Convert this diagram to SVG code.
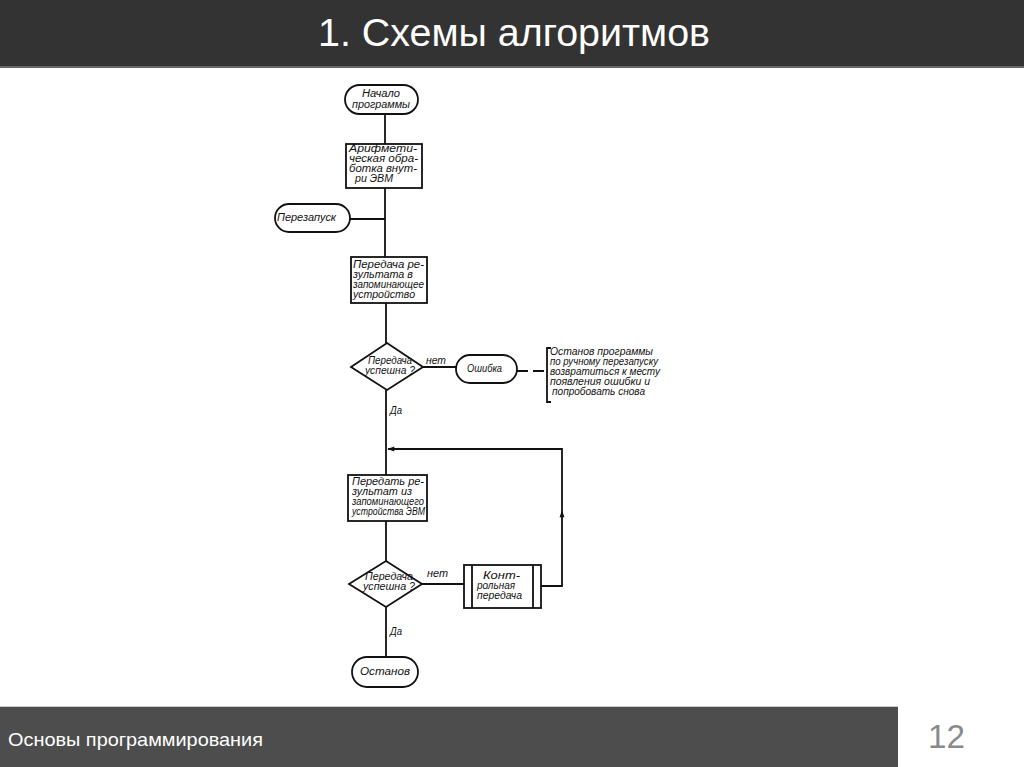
<svg xmlns="http://www.w3.org/2000/svg" width="1024" height="767" viewBox="0 0 1024 767">
<style>
.s{fill:none;stroke:#111;stroke-width:1.8}
.b{fill:#fff;stroke:#111;stroke-width:1.8}
.t{font-family:"Liberation Sans",Arial,sans-serif;font-style:italic;font-size:10px;fill:#111}
</style>
<defs>
<marker id="ah" viewBox="0 0 10 10" refX="9" refY="5" markerWidth="8" markerHeight="7" orient="auto-start-reverse" markerUnits="userSpaceOnUse">
<path d="M0,1.5 L10,5 L0,8.5 z" fill="#111"/>
</marker>
</defs>
<rect x="0" y="0" width="1024" height="767" fill="#fff"/>
<rect x="0" y="0" width="1024" height="66" fill="#333"/>
<rect x="0" y="66" width="1024" height="2" fill="#666"/>
<text x="318" y="46" textLength="392" lengthAdjust="spacingAndGlyphs" font-family="'Liberation Sans',Arial,sans-serif" font-size="38" fill="#fff">1. Схемы алгоритмов</text>
<rect x="0" y="706" width="898" height="1" fill="#ccc"/>
<rect x="0" y="707" width="898" height="60" fill="#4d4d4d"/>
<text x="8" y="746" textLength="255" lengthAdjust="spacingAndGlyphs" font-family="'Liberation Sans',Arial,sans-serif" font-size="19" fill="#fff">Основы программирования</text>
<text x="928" y="748" textLength="37" lengthAdjust="spacingAndGlyphs" font-family="'Liberation Sans',Arial,sans-serif" font-size="33" fill="#8a8a8a">12</text>

<g id="connectors">
<path class="s" d="M385,113 V144"/>
<path class="s" d="M385,188 V257"/>
<path class="s" d="M350,219 H385"/>
<path class="s" d="M386,303 V343"/>
<path class="s" d="M386,390 V475"/>
<path class="s" d="M423,367 H456"/>
<path class="s" d="M517,371 H528 M533,371 H544"/>
<path class="s" d="M386,521 V561"/>
<path class="s" d="M386,607 V657"/>
<path class="s" d="M422,584 H464"/>
<path class="s" d="M541,586 H562 V511" marker-end="url(#ah)"/>
<path class="s" d="M562,511 V449 H388" marker-end="url(#ah)"/>
<text class="t" x="426" y="364" textLength="20" lengthAdjust="spacingAndGlyphs">нет</text>
<text class="t" x="390" y="414" textLength="12" lengthAdjust="spacingAndGlyphs">Да</text>
<text class="t" x="427" y="577" textLength="21" lengthAdjust="spacingAndGlyphs">нет</text>
<text class="t" x="390" y="635" textLength="12" lengthAdjust="spacingAndGlyphs">Да</text>
</g>

<g id="start">
<rect class="b" x="345" y="85" width="73" height="29" rx="14.5"/>
<text class="t" x="362" y="97" textLength="38" lengthAdjust="spacingAndGlyphs">Начало</text>
<text class="t" x="352" y="108" textLength="58" lengthAdjust="spacingAndGlyphs">программы</text>
</g>

<g id="arith">
<rect class="b" x="346" y="144" width="76" height="44"/>
<text class="t" x="349" y="152" textLength="68" lengthAdjust="spacingAndGlyphs">Арифмети-</text>
<text class="t" x="349" y="162" textLength="69" lengthAdjust="spacingAndGlyphs">ческая обра-</text>
<text class="t" x="349" y="172" textLength="68" lengthAdjust="spacingAndGlyphs">ботка внут-</text>
<text class="t" x="355" y="182" textLength="38" lengthAdjust="spacingAndGlyphs">ри ЭВМ</text>
</g>

<g id="restart">
<rect class="b" x="275" y="204" width="75" height="28" rx="14"/>
<text class="t" x="277" y="221" textLength="59" lengthAdjust="spacingAndGlyphs">Перезапуск</text>
</g>

<g id="store">
<rect class="b" x="351" y="257" width="76" height="46"/>
<text class="t" x="353" y="268" textLength="71" lengthAdjust="spacingAndGlyphs">Передача ре-</text>
<text class="t" x="353" y="278" textLength="60" lengthAdjust="spacingAndGlyphs">зультата в</text>
<text class="t" x="353" y="288" textLength="71" lengthAdjust="spacingAndGlyphs">запоминающее</text>
<text class="t" x="353" y="298" textLength="62" lengthAdjust="spacingAndGlyphs">устройство</text>
</g>

<g id="check1">
<polygon class="b" points="387,343 423,367 387,390 351,367"/>
<text class="t" x="368" y="364" textLength="44" lengthAdjust="spacingAndGlyphs">Передача</text>
<text class="t" x="365" y="374" textLength="50" lengthAdjust="spacingAndGlyphs">успешна ?</text>
</g>

<g id="error">
<rect class="b" x="456" y="355" width="61" height="28" rx="14"/>
<text class="t" x="467" y="372" textLength="35" lengthAdjust="spacingAndGlyphs">Ошибка</text>
</g>

<g id="note">
<path class="s" d="M551,348 H547 V402 H551" stroke-width="1.4"/>
<text class="t" x="550" y="355" textLength="103" lengthAdjust="spacingAndGlyphs">Останов программы</text>
<text class="t" x="550" y="365" textLength="108" lengthAdjust="spacingAndGlyphs">по ручному перезапуску</text>
<text class="t" x="550" y="375" textLength="110" lengthAdjust="spacingAndGlyphs">возвратиться к месту</text>
<text class="t" x="550" y="385" textLength="100" lengthAdjust="spacingAndGlyphs">появления ошибки и</text>
<text class="t" x="552" y="395" textLength="93" lengthAdjust="spacingAndGlyphs">попробовать снова</text>
</g>

<g id="load">
<rect class="b" x="348" y="475" width="79" height="46"/>
<text class="t" x="352" y="485" textLength="72" lengthAdjust="spacingAndGlyphs">Передать ре-</text>
<text class="t" x="352" y="495" textLength="60" lengthAdjust="spacingAndGlyphs">зультат из</text>
<text class="t" x="352" y="505" textLength="72" lengthAdjust="spacingAndGlyphs">запоминающего</text>
<text class="t" x="352" y="515" textLength="73" lengthAdjust="spacingAndGlyphs">устройства ЭВМ</text>
</g>

<g id="check2">
<polygon class="b" points="386,561 422,584 386,607 349,584"/>
<text class="t" x="365" y="580" textLength="48" lengthAdjust="spacingAndGlyphs">Передача</text>
<text class="t" x="363" y="590" textLength="52" lengthAdjust="spacingAndGlyphs">успешна ?</text>
</g>

<g id="control">
<rect class="b" x="464" y="565" width="77" height="43"/>
<path class="s" d="M472,565 V608 M533,565 V608"/>
<text class="t" x="483" y="579" textLength="37" lengthAdjust="spacingAndGlyphs">Конт-</text>
<text class="t" x="477" y="589" textLength="38" lengthAdjust="spacingAndGlyphs">рольная</text>
<text class="t" x="477" y="599" textLength="45" lengthAdjust="spacingAndGlyphs">передача</text>
</g>

<g id="stop">
<rect class="b" x="352" y="657" width="66" height="30" rx="15"/>
<text class="t" x="360" y="675" textLength="50" lengthAdjust="spacingAndGlyphs">Останов</text>
</g>
</svg>
